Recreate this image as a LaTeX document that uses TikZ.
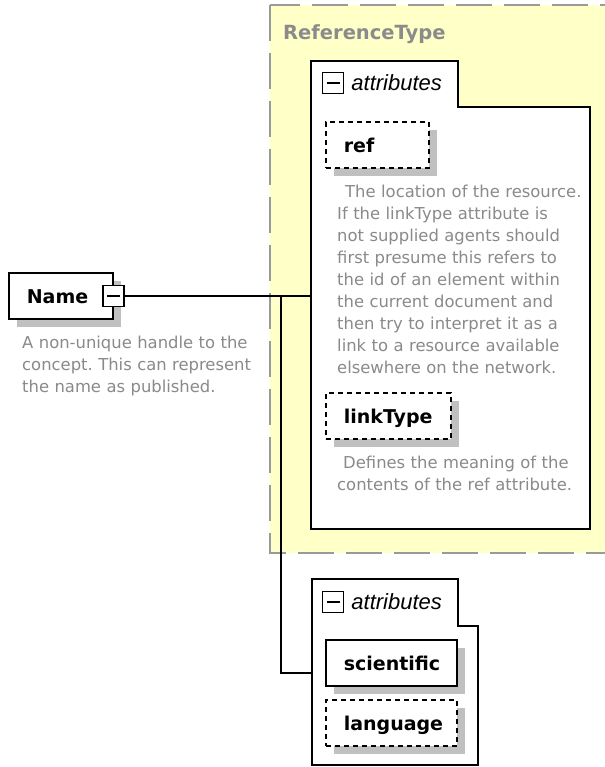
\documentclass[tikz,border=0pt]{standalone}
\usepackage{fontspec}
\setmainfont{DejaVu Sans}
\newfontfamily\tabfont{Liberation Sans}
\usepackage{xcolor}
\usepackage{tikz}
\usetikzlibrary{positioning, calc, shadows}
\frenchspacing
\definecolor{groupyellow}{HTML}{FFFFC8}
\definecolor{groupline}{HTML}{9A9A9A}
\definecolor{doctext}{HTML}{8A8A8A}
\definecolor{shadowgray}{HTML}{C0C0C0}
\tikzset{element/.style={rectangle,draw,fill=white,line width=1.6pt,text width=#1,inner xsep=0pt,inner ysep=0pt,minimum height=46pt,text height=16pt,text depth=0pt,align=left,font=\bfseries\fontsize{19}{22}\selectfont,execute at begin node={\hspace*{18pt}},drop shadow={shadow xshift=8pt,shadow yshift=-8pt,fill=shadowgray,opacity=1}},
         optional/.style={dash pattern=on 5pt off 4pt},
         group/.style={fill=groupyellow,draw=groupline,line width=1.6pt,dash pattern=on 36pt off 12pt},
         grouptitle/.style={text=groupline!90!black,font=\bfseries\fontsize{19.5}{22}\selectfont,inner sep=0pt,anchor=base west},
         compositor/.style={draw,fill=white,line width=1.6pt},
         pmbox/.style={rectangle,draw,fill=white,line width=1.4pt,minimum size=21pt,inner sep=0pt,path picture={\draw[line width=1.4pt] ([xshift=4pt]path picture bounding box.west) -- ([xshift=-4pt]path picture bounding box.east);}},
         tablabel/.style={font=\tabfont\itshape\fontsize{22}{26}\selectfont,inner sep=0pt},
         doc/.style={text=doctext,font=\fontsize{16.4}{22}\selectfont,text width=#1,align=left,inner sep=0pt,anchor=base west},
         conn/.style={line width=1.6pt}}
\begin{document}
\begin{tikzpicture}[x=1pt,y=-1pt]
    \useasboundingbox (0,0) rectangle (604,767);
    \fill[white] (0,0) rectangle (604,767);
    % ReferenceType group
    \draw[group] (270,5) rectangle (625,553);
    \node[grouptitle] (reftitle) at (283,40) {ReferenceType};
    % Connectors
    \node[element=104pt,anchor=north west] (name) at (8,272) {Name};
    \node[pmbox] (namepm) at (name.east) {};
    \coordinate (attrA) at (311,61);
    \coordinate (attrB) at (312,579);
    \coordinate (fork) at (281,295);
    \coordinate (attrBin) at (312,673);
    \draw[conn] (namepm.east) -- (namepm.east -| attrA);
    \draw[conn] (fork) |- (attrBin);
    \node[doc=260pt] (namedoc) at (22,348) {A non-unique handle to the\\concept. This can represent\\the name as published.};
    % attributes of ReferenceType
    \draw[compositor] (attrA) -- ++(147,0) -- ++(0,46) -- (590,107) -- (590,529) -- (311,529) -- cycle;
    \node[pmbox] (pmA) at ([shift={(22,22)}]attrA) {};
    \node[tablabel,right=7pt of pmA] (tabA) {attributes};
    \node[element=103pt,optional,anchor=north west] (ref) at (325,121) {ref};
    \node[doc=260pt] (refdoc) at (337,197) {\hspace*{8pt}The location of the resource.\\If the linkType attribute is\\not supplied agents should\\first presume this refers to\\the id of an element within\\the current document and\\then try to interpret it as a\\link to a resource available\\elsewhere on the network.};
    \node[element=125pt,optional,anchor=north west] (linktype) at (325,392) {linkType};
    \node[doc=260pt] (linkdoc) at (337,468) {\hspace*{6pt}Defines the meaning of the\\contents of the ref attribute.};
    % attributes of Name
    \draw[compositor] (attrB) -- ++(146,0) -- ++(0,47) -- (478,626) -- (478,765) -- (312,765) -- cycle;
    \node[pmbox] (pmB) at ([shift={(21,23)}]attrB) {};
    \node[tablabel,right=7pt of pmB] (tabB) {attributes};
    \node[element=131pt,anchor=north west] (scientific) at (325,639) {scientific};
    \node[element=131pt,optional,anchor=north west] (language) at (325,699) {language};
\end{tikzpicture}
\end{document}
